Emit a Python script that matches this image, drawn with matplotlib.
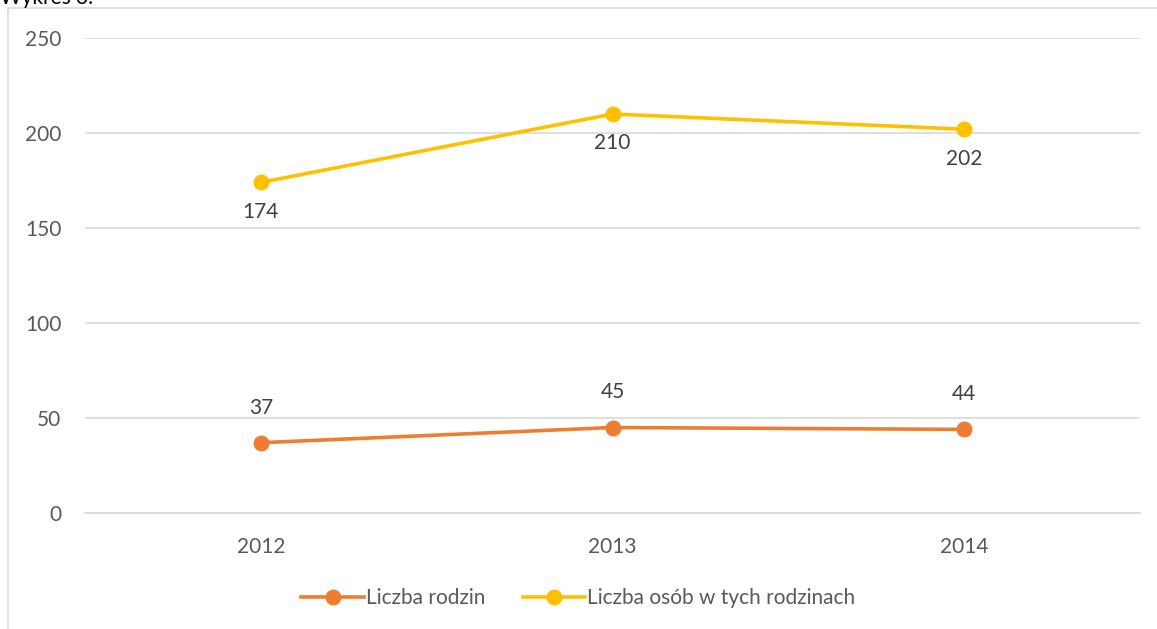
import matplotlib
matplotlib.use('Agg')
import matplotlib.pyplot as plt
from matplotlib.lines import Line2D

years = ['2012', '2013', '2014']
rodziny = [37, 45, 44]
osoby = [174, 210, 202]
series_names = ['Liczba rodzin', 'Liczba osób w tych rodzinach']
colors = ['#ED7D31', '#FFC000']

plt.rcParams['font.family'] = ['Lato', 'DejaVu Sans']

W, H = 1157, 629
fig = plt.figure(figsize=(W / 100, H / 100), dpi=100)
ax = fig.add_axes([85 / W, 116 / H, 1055 / W, 475 / H])

x = list(range(len(years)))
ax.plot(x, rodziny, color=colors[0], lw=2.6, marker='o', ms=10.5, label=series_names[0], zorder=3)
ax.plot(x, osoby, color=colors[1], lw=2.6, marker='o', ms=10.5, label=series_names[1], zorder=3)

for i, v in enumerate(rodziny):
    ax.annotate(str(v), (i, v), xytext=(0, 18), textcoords='offset points',
                ha='center', va='bottom', fontsize=15, color='#404040')
for i, v in enumerate(osoby):
    ax.annotate(str(v), (i, v), xytext=(0, -14), textcoords='offset points',
                ha='center', va='top', fontsize=15, color='#404040')

ax.set_xlim(-0.5, 2.5)
ax.set_ylim(0, 250)
ax.set_yticks(range(0, 251, 50))
ax.set_xticks(x)
ax.set_xticklabels(years)
ax.grid(axis='y', color='#D9D9D9', lw=1.2)
ax.axhline(0, color='#D9D9D9', lw=1.2, clip_on=False, zorder=1)
ax.set_axisbelow(True)
for s in ['top', 'right', 'left', 'bottom']:
    ax.spines[s].set_visible(False)
ax.tick_params(length=0, labelsize=15, labelcolor='#595959')
ax.tick_params(axis='x', pad=17)
ax.tick_params(axis='y', pad=17)

handles = [Line2D([], [], color=c, lw=2.6, marker='o', ms=10.5) for c in colors]
fig.legend(handles, series_names, loc='center', bbox_to_anchor=(0.5, (629 - 598) / H),
           ncol=2, frameon=False, fontsize=15, labelcolor='#595959',
           handlelength=3.0, handletextpad=0.1, columnspacing=1.8)

# outer chart frame
fig.add_artist(Line2D([8 / W, 8 / W], [0, 1 - 8 / H], color='#D9D9D9', lw=1.2))
fig.add_artist(Line2D([8 / W, 1], [1 - 8 / H, 1 - 8 / H], color='#D9D9D9', lw=1.2))
fig.text(0, 1 - 4 / H, 'Wykres 3.', fontsize=15, color='#000000', va='baseline', ha='left')

fig.savefig('out.png', dpi=100)
